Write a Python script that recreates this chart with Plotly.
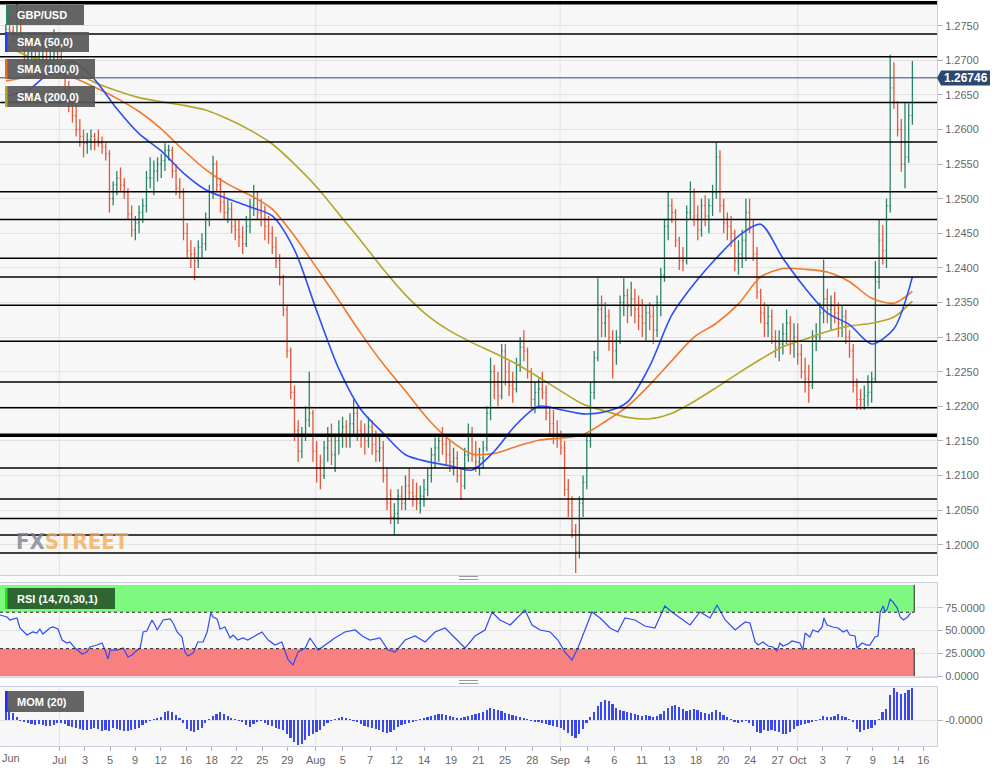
import plotly.graph_objects as go

# ---------------- data (4-hour-ish bars) ----------------
first_open = 1.2740
highs = [
    1.2752, 1.2762, 1.2750, 1.2784, 1.2775, 1.2735, 1.2720, 1.2735, 1.2725, 1.2715, 1.2740, 1.2730,
    1.2720, 1.2745, 1.2725, 1.2718, 1.2700, 1.2670, 1.2650, 1.2640, 1.2615, 1.2600, 1.2595, 1.2600,
    1.2595, 1.2600, 1.2590, 1.2580, 1.2570, 1.2525, 1.2540, 1.2545, 1.2530, 1.2515, 1.2490, 1.2475,
    1.2490, 1.2500, 1.2540, 1.2560, 1.2555, 1.2560, 1.2565, 1.2580, 1.2578, 1.2575, 1.2550, 1.2530,
    1.2515, 1.2465, 1.2440, 1.2430, 1.2440, 1.2450, 1.2480, 1.2520, 1.2562, 1.2555, 1.2530, 1.2510,
    1.2500, 1.2495, 1.2470, 1.2470, 1.2460, 1.2475, 1.2500, 1.2520, 1.2510, 1.2500, 1.2490, 1.2475,
    1.2460, 1.2445, 1.2420, 1.2390, 1.2345, 1.2285, 1.2230, 1.2180, 1.2170, 1.2200, 1.2250, 1.2195,
    1.2150, 1.2130, 1.2150, 1.2170, 1.2175, 1.2160, 1.2180, 1.2185, 1.2180, 1.2190, 1.2210, 1.2200,
    1.2180, 1.2175, 1.2185, 1.2180, 1.2165, 1.2160, 1.2150, 1.2110, 1.2080, 1.2060, 1.2080, 1.2085,
    1.2100, 1.2110, 1.2095, 1.2090, 1.2085, 1.2095, 1.2110, 1.2140, 1.2155, 1.2160, 1.2170, 1.2155,
    1.2150, 1.2140, 1.2135, 1.2110, 1.2140, 1.2175, 1.2170, 1.2150, 1.2140, 1.2150, 1.2200, 1.2270,
    1.2260, 1.2250, 1.2290, 1.2290, 1.2265, 1.2250, 1.2270, 1.2300, 1.2310, 1.2285, 1.2255, 1.2235,
    1.2240, 1.2250, 1.2230, 1.2200, 1.2195, 1.2180, 1.2165, 1.2150, 1.2095, 1.2070, 1.2030, 1.2070,
    1.2100, 1.2160, 1.2235, 1.2280, 1.2385, 1.2360, 1.2350, 1.2340, 1.2310, 1.2310, 1.2360, 1.2385,
    1.2370, 1.2380, 1.2370, 1.2360, 1.2355, 1.2345, 1.2350, 1.2345, 1.2360, 1.2400, 1.2470, 1.2510,
    1.2500, 1.2485, 1.2445, 1.2430, 1.2490, 1.2525, 1.2515, 1.2490, 1.2500, 1.2505, 1.2500, 1.2520,
    1.2582, 1.2570, 1.2500, 1.2480, 1.2475, 1.2455, 1.2440, 1.2455, 1.2500, 1.2500, 1.2470, 1.2430,
    1.2370, 1.2350, 1.2345, 1.2340, 1.2310, 1.2310, 1.2320, 1.2340, 1.2330, 1.2320, 1.2320, 1.2290,
    1.2270, 1.2260, 1.2310, 1.2320, 1.2350, 1.2412, 1.2370, 1.2360, 1.2365, 1.2350, 1.2345, 1.2340,
    1.2310, 1.2290, 1.2240, 1.2225, 1.2230, 1.2245, 1.2250, 1.2410, 1.2470, 1.2462, 1.2500, 1.2708,
    1.2697, 1.2640, 1.2615, 1.2640, 1.2638, 1.2699,
]
lows = [
    1.2730, 1.2738, 1.2725, 1.2735, 1.2720, 1.2695, 1.2690, 1.2700, 1.2675, 1.2685, 1.2695, 1.2690,
    1.2680, 1.2695, 1.2680, 1.2680, 1.2650, 1.2625, 1.2610, 1.2590, 1.2575, 1.2560, 1.2565, 1.2570,
    1.2570, 1.2575, 1.2565, 1.2555, 1.2480, 1.2490, 1.2505, 1.2510, 1.2500, 1.2470, 1.2445, 1.2440,
    1.2450, 1.2465, 1.2480, 1.2515, 1.2505, 1.2525, 1.2530, 1.2540, 1.2555, 1.2530, 1.2505, 1.2500,
    1.2440, 1.2415, 1.2400, 1.2382, 1.2400, 1.2415, 1.2425, 1.2460, 1.2500, 1.2510, 1.2480, 1.2470,
    1.2465, 1.2450, 1.2440, 1.2430, 1.2420, 1.2430, 1.2450, 1.2475, 1.2470, 1.2460, 1.2440, 1.2435,
    1.2420, 1.2400, 1.2375, 1.2330, 1.2270, 1.2210, 1.2150, 1.2120, 1.2125, 1.2150, 1.2170, 1.2120,
    1.2090, 1.2080, 1.2095, 1.2120, 1.2115, 1.2105, 1.2130, 1.2140, 1.2140, 1.2140, 1.2160, 1.2150,
    1.2140, 1.2130, 1.2140, 1.2130, 1.2120, 1.2120, 1.2090, 1.2050, 1.2030, 1.2015, 1.2030, 1.2050,
    1.2050, 1.2065, 1.2055, 1.2050, 1.2045, 1.2055, 1.2070, 1.2090, 1.2110, 1.2120, 1.2130, 1.2115,
    1.2105, 1.2100, 1.2090, 1.2065, 1.2080, 1.2120, 1.2120, 1.2105, 1.2100, 1.2110, 1.2135, 1.2180,
    1.2210, 1.2200, 1.2210, 1.2230, 1.2215, 1.2205, 1.2220, 1.2250, 1.2265, 1.2240, 1.2195, 1.2190,
    1.2200, 1.2210, 1.2180, 1.2160, 1.2145, 1.2140, 1.2130, 1.2070, 1.2040, 1.2010, 1.1959, 1.1980,
    1.2040, 1.2080, 1.2140, 1.2210, 1.2265, 1.2300, 1.2300, 1.2280, 1.2240, 1.2260, 1.2290, 1.2330,
    1.2320, 1.2330, 1.2320, 1.2310, 1.2300, 1.2295, 1.2310, 1.2290, 1.2300, 1.2330, 1.2380, 1.2440,
    1.2465, 1.2430, 1.2397, 1.2395, 1.2405, 1.2470, 1.2460, 1.2440, 1.2445, 1.2460, 1.2450, 1.2475,
    1.2500, 1.2480, 1.2450, 1.2440, 1.2430, 1.2395, 1.2390, 1.2400, 1.2410, 1.2450, 1.2410, 1.2355,
    1.2320, 1.2300, 1.2300, 1.2290, 1.2270, 1.2265, 1.2275, 1.2290, 1.2275, 1.2270, 1.2260, 1.2240,
    1.2220, 1.2205, 1.2225, 1.2280, 1.2295, 1.2320, 1.2320, 1.2310, 1.2320, 1.2300, 1.2300, 1.2290,
    1.2270, 1.2220, 1.2195, 1.2195, 1.2195, 1.2200, 1.2205, 1.2235, 1.2370, 1.2405, 1.2400, 1.2480,
    1.2630, 1.2590, 1.2539, 1.2515, 1.2552, 1.2607,
]
closes = [
    1.2745, 1.2742, 1.2735, 1.2770, 1.2725, 1.2702, 1.2710, 1.2718, 1.2690, 1.2705, 1.2722, 1.2695,
    1.2700, 1.2710, 1.2695, 1.2690, 1.2660, 1.2635, 1.2620, 1.2600, 1.2590, 1.2580, 1.2585, 1.2590,
    1.2585, 1.2580, 1.2575, 1.2565, 1.2500, 1.2520, 1.2530, 1.2520, 1.2510, 1.2478, 1.2455, 1.2465,
    1.2480, 1.2490, 1.2530, 1.2530, 1.2540, 1.2550, 1.2555, 1.2570, 1.2570, 1.2540, 1.2515, 1.2510,
    1.2450, 1.2425, 1.2420, 1.2410, 1.2430, 1.2435, 1.2470, 1.2510, 1.2550, 1.2520, 1.2495, 1.2480,
    1.2485, 1.2460, 1.2455, 1.2445, 1.2435, 1.2460, 1.2490, 1.2500, 1.2480, 1.2470, 1.2460, 1.2450,
    1.2430, 1.2410, 1.2385, 1.2340, 1.2280, 1.2220, 1.2165, 1.2135, 1.2160, 1.2180, 1.2190, 1.2135,
    1.2110, 1.2100, 1.2140, 1.2150, 1.2130, 1.2150, 1.2160, 1.2170, 1.2160, 1.2175, 1.2190, 1.2165,
    1.2160, 1.2150, 1.2170, 1.2145, 1.2135, 1.2140, 1.2100, 1.2060, 1.2040, 1.2045, 1.2070, 1.2060,
    1.2085, 1.2075, 1.2070, 1.2060, 1.2070, 1.2080, 1.2100, 1.2130, 1.2140, 1.2150, 1.2145, 1.2130,
    1.2120, 1.2125, 1.2100, 1.2085, 1.2130, 1.2160, 1.2130, 1.2120, 1.2125, 1.2140, 1.2190, 1.2250,
    1.2230, 1.2215, 1.2280, 1.2250, 1.2230, 1.2225, 1.2260, 1.2285, 1.2280, 1.2250, 1.2210, 1.2220,
    1.2225, 1.2220, 1.2190, 1.2175, 1.2160, 1.2160, 1.2140, 1.2080, 1.2060, 1.2020, 1.1990, 1.2060,
    1.2090, 1.2150, 1.2220, 1.2270, 1.2340, 1.2320, 1.2330, 1.2300, 1.2280, 1.2300, 1.2350, 1.2360,
    1.2345, 1.2355, 1.2340, 1.2330, 1.2320, 1.2335, 1.2330, 1.2310, 1.2350, 1.2390, 1.2460, 1.2490,
    1.2480, 1.2440, 1.2410, 1.2410, 1.2480, 1.2510, 1.2475, 1.2455, 1.2490, 1.2475, 1.2490, 1.2510,
    1.2560, 1.2490, 1.2465, 1.2460, 1.2450, 1.2410, 1.2420, 1.2440, 1.2480, 1.2460, 1.2420, 1.2365,
    1.2335, 1.2320, 1.2330, 1.2300, 1.2285, 1.2290, 1.2305, 1.2320, 1.2290, 1.2300, 1.2275, 1.2250,
    1.2240, 1.2230, 1.2300, 1.2300, 1.2335, 1.2355, 1.2340, 1.2345, 1.2335, 1.2320, 1.2330, 1.2300,
    1.2280, 1.2230, 1.2210, 1.2210, 1.2215, 1.2220, 1.2240, 1.2380, 1.2440, 1.2425, 1.2490, 1.2660,
    1.2640, 1.2600, 1.2550, 1.2560, 1.2620, 1.26746,
]
last_price = 1.26746

# SMA values sampled every 6 bars (and the last bar)
sma_idx = list(range(0, 246, 6)) + [245]
sma50 = [1.2648, 1.2657, 1.2683, 1.2698, 1.2672, 1.2630, 1.2594, 1.2569, 1.2537, 1.2513,
         1.2500, 1.2488, 1.2475, 1.2426, 1.2338, 1.2254, 1.2195, 1.2161, 1.2130, 1.2120,
         1.2114, 1.2108, 1.2135, 1.2174, 1.2200, 1.2195, 1.2189, 1.2192, 1.2206, 1.2258,
         1.2332, 1.2377, 1.2414, 1.2446, 1.2463, 1.2414, 1.2371, 1.2335, 1.2318, 1.2290,
         1.2312, 1.2387]
sma100 = [1.2670, 1.2676, 1.2680, 1.2675, 1.2661, 1.2645, 1.2626, 1.2601, 1.2570, 1.2542,
          1.2521, 1.2505, 1.2485, 1.2446, 1.2400, 1.2353, 1.2305, 1.2261, 1.2222, 1.2182,
          1.2151, 1.2131, 1.2132, 1.2142, 1.2151, 1.2154, 1.2159, 1.2178, 1.2200, 1.2231,
          1.2266, 1.2300, 1.2320, 1.2348, 1.2387, 1.2399, 1.2398, 1.2394, 1.2380, 1.2356,
          1.2349, 1.2366]
sma200 = [1.2721, 1.2706, 1.2696, 1.2685, 1.2668, 1.2656, 1.2646, 1.2640, 1.2635, 1.2628,
          1.2615, 1.2599, 1.2579, 1.2550, 1.2517, 1.2478, 1.2439, 1.2398, 1.2361, 1.2331,
          1.2309, 1.2292, 1.2277, 1.2261, 1.2242, 1.2222, 1.2203, 1.2193, 1.2184, 1.2182,
          1.2190, 1.2207, 1.2227, 1.2248, 1.2268, 1.2286, 1.2297, 1.2308, 1.2316, 1.2320,
          1.2329, 1.2352]

rsi_idx = [-1.6, 0.3, 1.1, 3.0, 3.8, 5.7, 7.3, 8.4, 9.2, 10.0, 11.9, 12.7, 14.1, 15.2, 16.5,
           17.3, 18.7, 20.6, 21.9, 22.7, 24.6, 26.0, 26.8, 27.6, 28.2, 30.0, 31.7, 33.0, 34.1,
           34.9, 36.3, 37.1, 38.1, 39.5, 40.3, 40.9, 42.5, 44.4, 45.2, 46.3, 47.6, 48.4, 49.2,
           50.6, 51.9, 53.3, 54.4, 55.4, 56.0, 57.1, 57.9, 59.2, 60.6, 61.4, 62.7, 64.1, 65.4,
           67.3, 69.2, 70.9, 72.7, 74.6, 76.3, 77.6, 79.0, 80.9, 82.2, 84.4, 86.3, 88.9, 91.6,
           94.4, 96.3, 98.4, 101.1, 103.3, 105.2, 107.9, 110.6, 113.3, 116.0, 118.7, 121.4,
           124.1, 126.8, 129.5, 131.4, 133.5, 136.3, 139.0, 140.3, 142.2, 144.4, 147.1, 149.2,
           151.1, 153.0, 154.6, 156.5, 158.4, 160.6, 163.3, 165.4, 167.3, 170.0, 172.7, 175.4,
           178.1, 180.0, 182.2, 184.9, 187.6, 190.3, 192.2, 194.4, 197.1, 199.8, 201.1,
           202.5, 203.3, 204.6, 206.0, 207.3, 208.4, 209.2, 210.0, 211.4, 212.5, 213.8, 214.6,
           215.4, 216.0, 217.3, 218.1, 219.5, 220.6, 221.1, 221.9, 223.5, 224.9, 226.3, 227.3,
           228.1, 229.5, 230.0, 231.4, 232.7, 233.5, 234.9, 235.7, 236.3, 237.1, 237.6, 238.2,
           239.0, 239.8, 240.9, 241.7, 242.6, 243.7, 244.5]
rsi_val = [67.0, 64.8, 61.5, 63.7, 52.7, 45.0, 48.3, 47.2, 51.6, 46.1, 52.7, 53.8, 51.6, 39.5, 36.2,
           37.3, 30.7, 24.1, 26.3, 31.8, 34.0, 36.2, 28.5, 18.7, 28.5, 28.5, 30.7, 20.9, 23.1,
           26.3, 30.7, 48.3, 49.4, 61.5, 56.0, 50.5, 61.5, 62.6, 58.2, 48.3, 42.8, 26.3, 22.0,
           25.2, 37.3, 37.3, 48.3, 69.2, 64.8, 62.6, 51.6, 53.8, 41.7, 45.0, 39.5, 41.7, 39.5,
           43.9, 48.3, 39.5, 34.0, 37.3, 17.6, 12.1, 26.3, 30.7, 41.7, 28.5, 34.0, 41.7, 48.3,
           50.5, 43.9, 39.5, 41.7, 28.5, 26.3, 39.5, 43.9, 37.3, 48.3, 52.7, 41.7,
           30.7, 43.9, 50.5, 70.3, 61.5, 56.0, 67.0, 72.4, 56.0, 50.5, 48.3, 39.5,
           26.3, 17.6, 30.7, 50.5, 70.3, 63.7, 52.7, 48.3, 63.7, 61.5, 54.9, 52.7,
           76.8, 70.3, 63.7, 56.0, 70.3, 63.7, 77.9, 61.5, 50.5, 59.3, 58.2,
           37.3, 34.0, 37.3, 32.9, 31.8, 27.4, 36.2, 32.9, 35.1, 38.4, 37.3, 36.2,
           28.5, 47.2, 42.8, 50.5, 48.3, 53.8, 63.7, 56.0, 53.8, 52.7, 48.3, 50.5,
           45.0, 43.9, 30.7, 36.2, 34.0, 34.0, 42.8, 43.9, 70.3, 76.8, 70.3, 73.5,
           84.5, 81.2, 74.6, 64.8, 61.5, 64.8, 69.2]

mom = [12, 11, 7, 3, -1, -2, -3, -4, -5, -4,
       -5, -6, -6, -5, -3, -3, -4, -6, -7, -8,
       -9, -10, -10, -9, -8, -9, -11, -10, -11, -8,
       -9, -10, -11, -11, -10, -9, -8, -5, -3, -1,
       1, 2, 3, 8, 9, 8, 5, 2, -3, -9,
       -11, -12, -10, -8, -3, 1, 4, 6, 8, 6,
       4, 2, 1, -1, -2, -5, -7, -4, -2, -1,
       -3, -5, -6, -8, -9, -10, -14, -18, -22, -25,
       -24, -20, -16, -14, -12, -10, -6, -3, -1, 1,
       2, 3, 2, 1, -1, -2, -4, -6, -7, -8,
       -9, -10, -12, -13, -12, -10, -7, -5, -4, -3,
       -2, -1, 1, 2, 3, 4, 5, 6, 6, 5,
       4, 3, 2, 2, 3, 4, 5, 6, 7, 8,
       10, 12, 11, 10, 9, 7, 6, 5, 4, 3,
       2, 1, -1, -2, -2, -3, -4, -5, -6, -7,
       -8, -10, -13, -16, -18, -14, -9, -3, 3, 8,
       14, 18, 20, 19, 16, 12, 10, 9, 8, 7,
       6, 5, 4, 5, 4, 3, 4, 6, 9, 12,
       14, 15, 13, 11, 9, 10, 11, 10, 8, 7,
       6, 8, 10, 8, 5, 3, 1, -2, -3, -2,
       -1, -3, -6, -12, -13, -10, -11, -10, -11, -12,
       -14, -14, -12, -9, -6, -5, -4, -3, -2, -1,
       1, 4, 3, 3, 4, 6, 4, 3, 1, -2,
       -9, -12, -10, -9, -8, -5, 1, 8, 11, 25,
       32, 28, 26, 27, 30, 32]

levels = [1.2783, 1.2738, 1.2705, 1.2639, 1.2582, 1.2510, 1.2470, 1.2414, 1.2387, 1.2346,
          1.2294, 1.2235, 1.2198, 1.2158, 1.2111, 1.2066, 1.2038, 1.2014, 1.1988]
thick_levels = [1.2783, 1.2158]

first_tick_text = "Jun"
tick_idx = [14.45, 21.39, 28.15, 34.91, 41.85, 48.69, 55.64, 62.39, 69.31, 76.07, 83.74,
            91.04, 98.42, 105.64, 113.01, 120.31, 127.69, 134.91, 142.28, 149.77, 157.15,
            164.45, 171.85, 179.31, 186.53, 193.9, 201.12, 208.6, 214.0, 220.77, 227.53,
            234.28, 241.2, 247.96]
tick_text = ["Jul", "3", "5", "9", "12", "16", "18", "22", "25", "29", "Aug",
             "5", "7", "12", "14", "19", "21", "25", "28", "Sep", "4",
             "6", "11", "13", "18", "20", "24", "27", "Oct", "3", "7",
             "9", "14", "16"]
month_idx = [14.45, 83.74, 149.77, 214.0]
price_ticks = [1.2000 + 0.005 * k for k in range(16)]

# ---------------- figure ----------------
N = len(closes)
idx = list(range(N))
opens = [first_open] + closes[:-1]
hi = [max(h, o, c) for h, o, c in zip(highs, opens, closes)]
lo = [min(l, o, c) for l, o, c in zip(lows, opens, closes)]

W, H = 1008, 772
ML, MR, MT, MB = 0, 71, 0, 26
PW, PH = W - ML - MR, H - MT - MB


def px(xp):
    return (xp - ML) / PW


def py(yp):
    return 1 - (yp - MT) / PH


XR = [-1.58, 251.65]
BORDER = "#c9d2de"
GRID = "#e3e3e3"
FONT = "Liberation Sans, Arial, sans-serif"

fig = go.Figure()
fig.add_trace(go.Ohlc(
    x=idx, open=opens, high=hi, low=lo, close=closes, xaxis="x", yaxis="y",
    increasing=dict(line=dict(color="#2a8568", width=1.3)),
    decreasing=dict(line=dict(color="#e4573c", width=1.3)),
    tickwidth=0.3, hoverinfo="skip"))
for vals, col in [(sma200, "#b5a52a"), (sma100, "#f2782a"), (sma50, "#2c4ff5")]:
    fig.add_trace(go.Scatter(x=sma_idx, y=vals, mode="lines", xaxis="x", yaxis="y",
                             line=dict(color=col, width=1.6, shape="spline", smoothing=0.8),
                             hoverinfo="skip"))
fig.add_trace(go.Scatter(x=rsi_idx, y=rsi_val, mode="lines", xaxis="x2", yaxis="y2",
                         line=dict(color="#2f4cf2", width=1.2), hoverinfo="skip"))
fig.add_trace(go.Bar(x=idx, y=mom, xaxis="x3", yaxis="y3", width=0.45,
                     marker=dict(color="#3b48f2", line=dict(width=0)), hoverinfo="skip"))

shapes = []
for ax, yr in [("x", "y"), ("x2", "y2"), ("x3", "y3")]:
    for m in month_idx:
        shapes.append(dict(type="line", xref=ax, yref=yr + " domain", x0=m, x1=m, y0=0, y1=1,
                           line=dict(color=GRID, width=1), layer="below"))
x_end = N - 0.5
shapes += [
    dict(type="rect", xref="x2", yref="y2", x0=XR[0], x1=x_end, y0=70, y1=100,
         fillcolor="#7ff87f", line=dict(width=0), layer="between"),
    dict(type="rect", xref="x2", yref="y2", x0=XR[0], x1=x_end, y0=0, y1=30,
         fillcolor="#f88080", line=dict(width=0), layer="between"),
    dict(type="line", xref="x2", yref="y2", x0=XR[0], x1=x_end, y0=70, y1=70,
         line=dict(color="#222", width=1, dash="dot")),
    dict(type="line", xref="x2", yref="y2", x0=XR[0], x1=x_end, y0=30, y1=30,
         line=dict(color="#222", width=1, dash="dot")),
    dict(type="line", xref="x2", yref="y2", x0=x_end, x1=x_end, y0=70, y1=100,
         line=dict(color="#222", width=1)),
    dict(type="line", xref="x2", yref="y2", x0=x_end, x1=x_end, y0=0, y1=30,
         line=dict(color="#222", width=1)),
]
for lv in levels:
    shapes.append(dict(type="line", xref="paper", yref="y", x0=0, x1=1, y0=lv, y1=lv,
                       line=dict(color="#000", width=3.5 if lv in thick_levels else 1.5)))
shapes.append(dict(type="line", xref="paper", yref="y", x0=0, x1=1, y0=last_price,
                   y1=last_price, line=dict(color="#2f4a6f", width=1)))
for gy in (576.5, 579.5, 680.5, 683.5):
    shapes.append(dict(type="line", xref="paper", yref="paper", x0=px(459), x1=px(478),
                       y0=py(gy), y1=py(gy), line=dict(color="#9a9a9a", width=1)))
boxes = [
    (6, 84, 5, 25, "#2a8568", "rgba(88,88,88,0.93)"),
    (5, 89, 32, 52, "#1f3cff", "rgba(88,88,88,0.93)"),
    (5, 95, 59, 79, "#f06a1a", "rgba(88,88,88,0.93)"),
    (5, 95, 86, 107, "#b5a52a", "rgba(88,88,88,0.93)"),
    (5, 115, 588, 609, "#22e622", "rgba(40,90,44,0.93)"),
    (5, 84, 691, 712, "#1f2cff", "rgba(88,88,88,0.93)"),
]
for x0, x1, y0, y1, strip, bg in boxes:
    shapes.append(dict(type="rect", xref="paper", yref="paper", x0=px(x0), x1=px(x1),
                       y0=py(y1), y1=py(y0), fillcolor=bg, line=dict(width=0)))
    shapes.append(dict(type="rect", xref="paper", yref="paper", x0=px(x0), x1=px(x0 + 2.5),
                       y0=py(y1), y1=py(y0), fillcolor=strip, line=dict(width=0)))
tag_path = "M {a},{m} L {b},{t} L {c},{t} L {c},{bt} L {b},{bt} Z".format(
    a=px(937), b=px(941), c=px(990), m=py(78), t=py(70.5), bt=py(85.5))
shapes.append(dict(type="path", xref="paper", yref="paper", path=tag_path,
                   fillcolor="#2c4870", line=dict(width=0)))

annotations = []
labels = [("GBP/USD", 15, 15), ("SMA (50,0)", 15, 42), ("SMA (100,0)", 15, 69),
          ("SMA (200,0)", 15, 96.5), ("RSI (14,70,30,1)", 15, 598.5), ("MOM (20)", 15, 701.5)]
for txt, x, y in labels:
    annotations.append(dict(text="<b>" + txt + "</b>", xref="paper", yref="paper", x=px(x),
                            y=py(y), xanchor="left", yanchor="middle", showarrow=False,
                            font=dict(family=FONT, size=11, color="white")))
annotations.append(dict(text="<b>1.26746</b>", xref="paper", yref="paper", x=px(965.5),
                        y=py(78), xanchor="center", yanchor="middle", showarrow=False,
                        font=dict(family=FONT, size=12, color="white")))
annotations.append(dict(text=first_tick_text, xref="paper", yref="paper", x=px(0), y=py(758),
                        xanchor="left", yanchor="middle", showarrow=False,
                        font=dict(family=FONT, size=11, color="#666")))
annotations.append(dict(
    text="<b><span style='color:rgba(125,130,140,0.8)'>FX</span>"
         "<span style='color:rgba(242,172,84,0.8)'>STREET</span></b>",
    xref="paper", yref="paper", x=px(14), y=py(541), xanchor="left", yanchor="middle",
    showarrow=False,
    font=dict(family="Liberation Sans Narrow, DejaVu Sans Condensed, Arial Narrow, sans-serif",
              size=22)))

axis_common = dict(showline=True, mirror=True, linecolor=BORDER, linewidth=1, zeroline=False)
fig.update_layout(
    width=W, height=H, margin=dict(l=ML, r=MR, t=MT, b=MB),
    paper_bgcolor="white", plot_bgcolor="#f7f7f7", showlegend=False,
    font=dict(family=FONT, size=11, color="#555"), bargap=0,
    xaxis=dict(domain=[0, 1], anchor="y", range=XR, showticklabels=False, showgrid=False,
               ticks="", rangeslider=dict(visible=False), **axis_common),
    yaxis=dict(domain=[py(575), 1], anchor="x", side="right", range=[1.19562, 1.27871],
               tickvals=price_ticks, ticktext=["%.4f" % v for v in price_ticks],
               ticks="outside", ticklen=5, tickcolor="#aab2be", gridcolor=GRID,
               tickfont=dict(size=11, color="#666"), **axis_common),
    xaxis2=dict(domain=[0, 1], anchor="y2", range=XR, showticklabels=False, showgrid=False,
                ticks="", **axis_common),
    yaxis2=dict(domain=[py(677), py(583)], anchor="x2", side="right", range=[-1.1, 102.1],
                tickvals=[0, 25, 50, 75],
                ticktext=["0.0000", "25.0000", "50.0000", "75.0000"],
                ticks="outside", ticklen=5, tickcolor="#aab2be", gridcolor=GRID,
                tickfont=dict(size=11, color="#666"), **axis_common),
    xaxis3=dict(domain=[0, 1], anchor="y3", range=XR, tickvals=tick_idx, ticktext=tick_text,
                showgrid=False, ticks="outside", ticklen=4, tickcolor="#aab2be",
                tickfont=dict(size=11, color="#666"), **axis_common),
    yaxis3=dict(domain=[0, py(687)], anchor="x3", side="right", range=[-26, 33],
                tickvals=[0], ticktext=["-0.0000"], ticks="outside", ticklen=5,
                tickcolor="#aab2be", gridcolor=GRID, tickfont=dict(size=11, color="#666"),
                **axis_common),
    shapes=shapes, annotations=annotations,
)

fig.write_html("out.html", config={"displayModeBar": False},
               post_script="document.body.style.margin='0';")
